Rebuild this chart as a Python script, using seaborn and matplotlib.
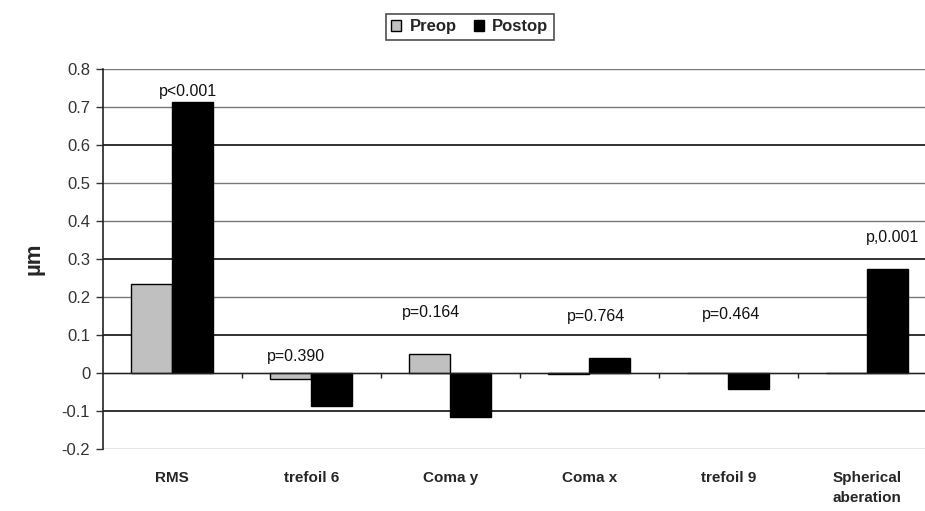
import numpy as np
import pandas as pd
import matplotlib
matplotlib.use("Agg")
import matplotlib.pyplot as plt
import seaborn as sns

categories = ["RMS", "trefoil 6", "Coma y", "Coma x", "trefoil 9", "Spherical\naberation"]
preop = [0.234, -0.016, 0.050, -0.003, 0.0, 0.0]
postop = [0.713, -0.087, -0.116, 0.039, -0.042, 0.274]
p_labels = ["p<0.001", "p=0.390", "p=0.164", "p=0.764", "p=0.464", "p,0.001"]
p_x = [0.11, 0.89, 1.86, 3.05, 4.02, 5.18]
p_y = [0.742, 0.045, 0.160, 0.150, 0.153, 0.358]
y_ticks = [-0.2, -0.1, 0, 0.1, 0.2, 0.3, 0.4, 0.5, 0.6, 0.7, 0.8]


def build_frame():
    df = pd.DataFrame({
        "measure": categories * 2,
        "group": ["Preop"] * len(categories) + ["Postop"] * len(categories),
        "value": preop + postop,
    })
    return df


def paint_chart(df):
    sns.set_style("white")
    plt.rcParams["font.family"] = ["Liberation Sans", "DejaVu Sans"]

    fig = plt.figure(figsize=(9.25, 5.11), dpi=100)
    ax = fig.add_axes([0.111, 0.121, 0.889, 0.744])

    for t in y_ticks:
        dark = t in (0.1, 0.3, 0.6, -0.1)
        ax.axhline(t, color="#222222" if dark else "#777777",
                   lw=1.3 if dark else 1.0, zorder=0)

    sns.barplot(data=df, x="measure", y="value", hue="group",
                palette={"Preop": "#c0c0c0", "Postop": "#000000"},
                width=0.59, gap=0, edgecolor="black", linewidth=1,
                ax=ax, zorder=2)

    # zero line with category separator ticks
    ax.axhline(0, color="#222222", lw=1, zorder=3)
    bounds = np.arange(len(categories) - 1) + 0.5
    ax.vlines(bounds, -0.012, 0, color="#222222", lw=1, zorder=3)

    for lab, x, y in zip(p_labels, p_x, p_y):
        ax.text(x, y, lab, ha="center", va="center", fontsize=11.5, color="#111111")

    ax.set_ylim(-0.2, 0.8)
    ax.set_xlim(-0.5, 5.414)
    ax.set_yticks(y_ticks)
    ax.set_yticklabels(["-0.2", "-0.1", "0", "0.1", "0.2", "0.3", "0.4", "0.5",
                        "0.6", "0.7", "0.8"], fontsize=12, color="#333333")
    ax.tick_params(axis="y", length=5, width=1, color="#333333", pad=4, left=True)
    ax.tick_params(axis="x", length=0, pad=16)
    for lbl in ax.get_xticklabels():
        lbl.set_fontweight("bold")
        lbl.set_fontsize(11)
        lbl.set_linespacing(1.5)
        lbl.set_va("top")

    ax.set_xlabel("")
    ax.set_ylabel("µm", fontsize=16, fontweight="bold", labelpad=12)

    for s in ["top", "right", "bottom"]:
        ax.spines[s].set_visible(False)
    ax.spines["left"].set_color("#222222")
    ax.spines["left"].set_linewidth(1.2)

    handles, labels = ax.get_legend_handles_labels()
    ax.legend(handles, labels, loc="center", bbox_to_anchor=(0.4465, 1.1105),
              ncol=2, frameon=True, fancybox=False, edgecolor="#222222",
              prop={"weight": "bold", "size": 12}, handlelength=0.6, handleheight=0.6,
              columnspacing=1.0, handletextpad=0.5, borderpad=0.35)
    ax.get_legend().get_frame().set_linewidth(1.2)

    fig.savefig("out.png", dpi=100)


if __name__ == '__main__':
    paint_chart(build_frame())
